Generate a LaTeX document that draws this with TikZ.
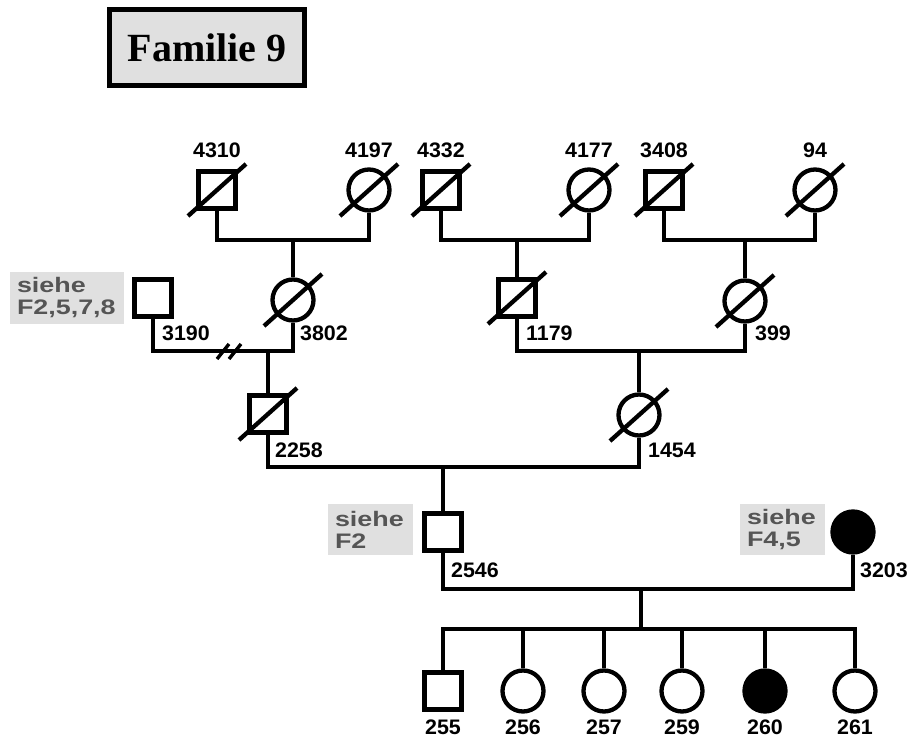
\documentclass[tikz,border=0pt]{standalone}
\usepackage{fontspec}
\usepackage{xcolor}
\usepackage{tikz}
\usetikzlibrary{positioning}
\newfontfamily\titlefont{Liberation Serif}
\newfontfamily\numfont{Liberation Sans}[FakeStretch=1.02]
\newfontfamily\siehefont{Liberation Sans}[FakeStretch=1.28]
\definecolor{boxgray}{RGB}{224,224,224}
\definecolor{textgray}{RGB}{85,85,85}

\begin{document}
\begin{tikzpicture}[x=1pt, y=-1pt, line width=4.3pt]
	\tikzstyle{male} = [draw=black, rectangle, minimum size=37pt, inner sep=0pt]
	\tikzstyle{female} = [draw=black, circle, minimum size=41pt, inner sep=0pt]
	\tikzstyle{affected} = [fill=black]
	\tikzstyle{link} = [draw=black, line width=4.3pt]
	\tikzstyle{num} = [inner sep=0pt, font=\numfont\bfseries\fontsize{21}{23}\selectfont]
	\tikzstyle{siehe} = [fill=boxgray, text=textgray, rectangle, align=left, inner xsep=7pt, inner ysep=0pt, minimum height=51pt, font=\siehefont\bfseries\fontsize{21}{22}\selectfont]
	\tikzstyle{titlebox} = [draw=black, line width=5pt, fill=boxgray, minimum width=195pt, minimum height=76pt, font=\titlefont\bfseries\fontsize{40}{44}\selectfont]

	\useasboundingbox (0, 0) rectangle (908, 738);

	\node[titlebox]			at (207, 47.5)		(title)	{Familie 9};

	% generation I
	\node[male]				at (217, 190)		(p4310)	{};
	\node[female]			at (369, 190)		(p4197)	{};
	\node[male]				at (441, 190)		(p4332)	{};
	\node[female]			at (589, 190)		(p4177)	{};
	\node[male]				at (664, 190)		(p3408)	{};
	\node[female]			at (815, 190)		(p94)	{};
	\node[num, anchor=base]	at (217, 158)		(l4310)	{4310};
	\node[num, anchor=base]	at (369, 158)		(l4197)	{4197};
	\node[num, anchor=base]	at (441, 158)		(l4332)	{4332};
	\node[num, anchor=base]	at (589, 158)		(l4177)	{4177};
	\node[num, anchor=base]	at (664, 158)		(l3408)	{3408};
	\node[num, anchor=base]	at (815, 158)		(l94)	{94};

	% generation II
	\node[siehe, text width=100pt]	at (67, 298)	(s3190)	{siehe\\F2,5,7,8};
	\node[male]				at (153, 298)		(p3190)	{};
	\node[female]			at (293, 300)		(p3802)	{};
	\node[male]				at (517, 298)		(p1179)	{};
	\node[female]			at (745, 301)		(p399)	{};
	\node[num, anchor=base west]	at (160, 340)	(l3190)	{3190};
	\node[num, anchor=base west]	at (298, 340)	(l3802)	{3802};
	\node[num, anchor=base west]	at (524, 340)	(l1179)	{1179};
	\node[num, anchor=base west]	at (753, 340)	(l399)	{399};

	% generation III
	\node[male]				at (268, 414)		(p2258)	{};
	\node[female]			at (639, 415)		(p1454)	{};
	\node[num, anchor=base west]	at (273, 457)	(l2258)	{2258};
	\node[num, anchor=base west]	at (646, 457)	(l1454)	{1454};

	% generation IV
	\node[siehe, text width=71pt]	at (370.5, 529.5)	(s2546)	{siehe\\F2};
	\node[male]				at (443, 532)		(p2546)	{};
	\node[siehe, text width=71pt]	at (782.5, 529.5)	(s3203)	{siehe\\F4,5};
	\node[female, affected]	at (853, 532)		(p3203)	{};
	\node[num, anchor=base west]	at (449, 577)	(l2546)	{2546};
	\node[num, anchor=base west]	at (858, 577)	(l3203)	{3203};

	% generation V
	\node[male]				at (443, 691)		(c255)	{};
	\node[female]			at (523, 691)		(c256)	{};
	\node[female]			at (604, 691)		(c257)	{};
	\node[female]			at (682, 691)		(c259)	{};
	\node[female, affected]	at (765, 691)		(c260)	{};
	\node[female]			at (855, 691)		(c261)	{};
	\node[num, anchor=base]	at (443, 734)		(l255)	{255};
	\node[num, anchor=base]	at (523, 734)		(l256)	{256};
	\node[num, anchor=base]	at (604, 734)		(l257)	{257};
	\node[num, anchor=base]	at (682, 734)		(l259)	{259};
	\node[num, anchor=base]	at (765, 734)		(l260)	{260};
	\node[num, anchor=base]	at (855, 734)		(l261)	{261};

	% deceased
	\foreach \p in {p4310, p4197, p4332, p4177, p3408, p94, p3802, p1179, p399, p2258, p1454}
		\draw[link] ([shift={(-29, 26)}]\p.center) -- ([shift={(29, -26)}]\p.center);

	% marriages and descent
	\coordinate (m1) at (293, 240);
	\coordinate (m2) at (517, 240);
	\coordinate (m3) at (745, 240);
	\coordinate (m4) at (268, 351);
	\coordinate (m5) at (639, 351);
	\coordinate (m6) at (443, 467);
	\coordinate (m7) at (641, 589);
	\coordinate (sib) at (641, 629);
	\coordinate (brk) at (229, 351);

	\draw[link] (p4310.south) |- (m1) -| (p4197.south);
	\draw[link] (p4332.south) |- (m2) -| (p4177.south);
	\draw[link] (p3408.south) |- (m3) -| (p94.south);
	\draw[link] (m1) -- (p3802.north);
	\draw[link] (m2) -- (p1179.north);
	\draw[link] (m3) -- (p399.north);

	\draw[link] (p3190.south) |- (m4) -| (p3802.south);
	\draw[link, line width=3.4pt] ([shift={(-12, 8)}]brk) -- ([shift={(0, -7)}]brk);
	\draw[link, line width=3.4pt] ([shift={(0, 8)}]brk) -- ([shift={(12, -7)}]brk);
	\draw[link] (p1179.south) |- (m5) -| (p399.south);
	\draw[link] (m4) -- (p2258.north);
	\draw[link] (m5) -- (p1454.north);

	\draw[link] (p2258.south) |- (m6) -| (p1454.south);
	\draw[link] (m6) -- (p2546.north);

	\draw[link] (p2546.south) |- (m7) -| (p3203.south);
	\draw[link] (m7) -- (sib);
	\draw[link] (c255.north) |- (sib) -| (c261.north);
	\foreach \c in {c256, c257, c259, c260}
		\draw[link] (\c.north) -- (\c.north |- sib);
\end{tikzpicture}
\end{document}
